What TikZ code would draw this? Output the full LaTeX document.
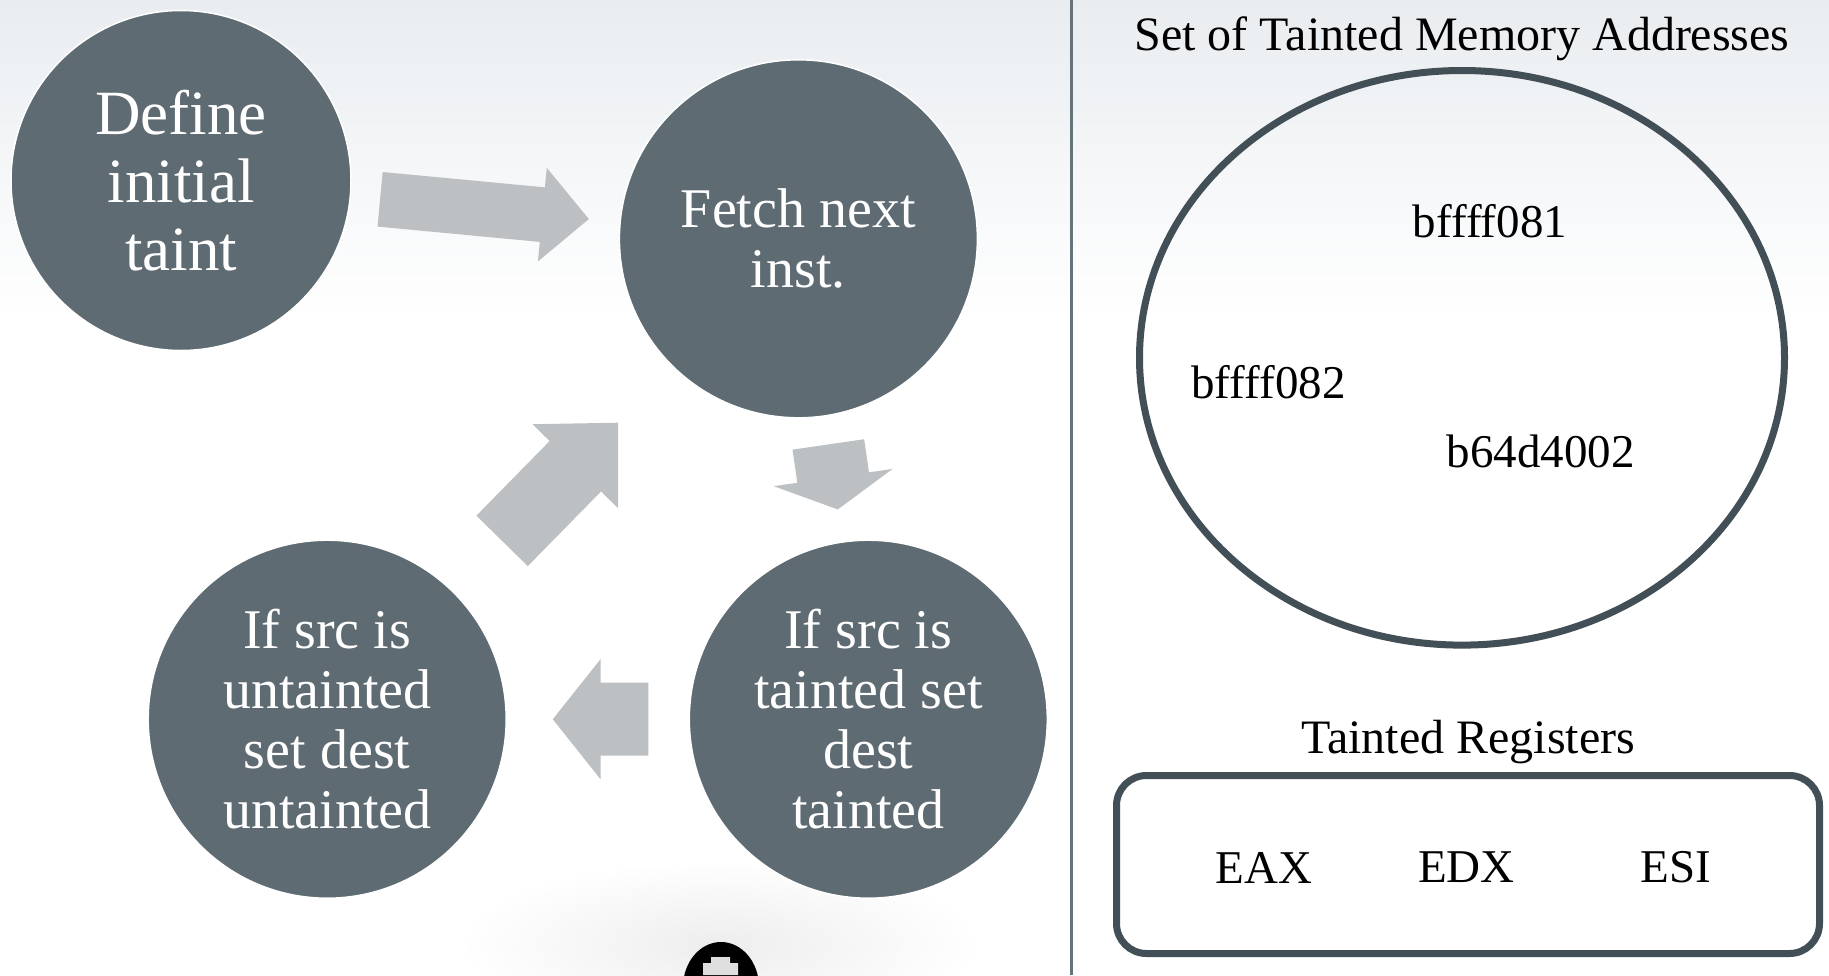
\documentclass[tikz,border=0pt]{standalone}
\usepackage{fontspec}
\setmainfont{Liberation Serif}
\usetikzlibrary{positioning,calc,shapes.geometric}
\definecolor{stagefill}{HTML}{5E6B72}
\definecolor{flowgray}{HTML}{BCC0C3}
\definecolor{setline}{HTML}{434F56}
\definecolor{divline}{HTML}{66737A}
\definecolor{bgtop}{HTML}{E9EDF0}
\tikzset{
  stage/.style={circle, fill=stagefill, draw=white, line width=1.5pt, text=white, align=center, inner sep=0pt, minimum size=358pt, font=\fontsize{56}{60}\selectfont},
  flow/.style={fill=flowgray},
  setbox/.style={draw=setline, line width=7pt, inner sep=0pt},
  hdr/.style={font=\fontsize{48}{52}\selectfont, inner sep=0pt},
  addr/.style={hdr, font=\fontsize{47}{50}\selectfont},
}
% block arrow: tail, tip, half shaft, half head, head length
\newcommand{\flowarrow}[5]{%
  \coordinate (hb) at ($(#2)!#5!(#1)$);
  \fill[flow] ($(#1)!#3!90:(#2)$) -- ($(hb)!#3!-90:(#1)$) -- ($(hb)!#4!-90:(#1)$)
    -- (#2) -- ($(hb)!#4!90:(#1)$) -- ($(hb)!#3!90:(#1)$) -- ($(#1)!#3!-90:(#2)$) -- cycle;
}

\begin{document}
\begin{tikzpicture}[x=1pt, y=1pt]
  \useasboundingbox (0,0) rectangle (1829,-975);
  \fill[white] (0,0) rectangle (1829,-975);
  \shade[top color=bgtop, bottom color=white] (0,0) rectangle (1829,-320);
  % smudge at the bottom
  \shade[inner color=black!7, outer color=white] (720,-945) ellipse [x radius=260, y radius=85];
  \fill[black] (721,-987) ellipse [x radius=38, y radius=45];
  \fill[gray!25] (711,-957) -- (730,-957) -- (730,-963) -- (738,-963) -- (738,-975)
    -- (703,-975) -- (703,-963) -- (711,-963) -- cycle;

  % the loop
  \node[stage, minimum size=340pt, font=\fontsize{63}{68}\selectfont] (def) at (181,-180.5) {Define\\initial\\taint};
  \node[stage] (fetch) at (798.4,-238.8) {Fetch next\\inst.};
  \node[stage] (tnt) at (868.3,-719.2) {If src is\\tainted set\\dest\\tainted};
  \node[stage] (unt) at (327.2,-719.2) {If src is\\untainted\\set dest\\untainted};

  \coordinate (f1a) at ($(def)!200pt!(fetch)$);
  \coordinate (f1b) at ($(fetch)!210.5pt!(def)$);
  \flowarrow{f1a}{f1b}{27.4pt}{47pt}{46.7pt}
  \coordinate (f2a) at ($(fetch)!207.8pt!(tnt)$);
  \coordinate (f2b) at ($(tnt)!212pt!(fetch)$);
  \flowarrow{f2a}{f2b}{36.2pt}{60pt}{32.2pt}
  \coordinate (f3a) at ($(tnt)!220pt!(unt)$);
  \coordinate (f3b) at ($(unt)!225.6pt!(tnt)$);
  \flowarrow{f3a}{f3b}{36.5pt}{60pt}{47.7pt}
  \coordinate (f4a) at ($(unt)!249.8pt!(fetch)$);
  \coordinate (f4b) at ($(fetch)!257.6pt!(unt)$);
  \flowarrow{f4a}{f4b}{36pt}{60pt}{61pt}

  \draw[divline, line width=3pt] (1071.5,0) -- (1071.5,-975);

  % taint state
  \node[setbox, ellipse, minimum width=645pt, minimum height=574.6pt] (mem) at (1462,-357.8) {};
  \node[hdr, above=5.5pt of mem] (memhdr) {Set of Tainted Memory Addresses};
  \node[addr] (m1) at (1490,-221) {bffff081};
  \node[addr] (m2) at (1268.5,-382.5) {bffff082};
  \node[addr] (m3) at (1540.5,-451) {b64d4002};

  \node[setbox, rounded corners=30pt, minimum width=703pt, minimum height=178pt] (regs) at (1468,-864.5) {};
  \node[hdr, above=8pt of regs] (reghdr) {Tainted Registers};
  \node[addr] (r1) at (1264,-867.5) {EAX};
  \node[addr] (r2) at (1466.4,-867.5) {EDX};
  \node[addr] (r3) at (1676,-867.5) {ESI};
\end{tikzpicture}
\end{document}
